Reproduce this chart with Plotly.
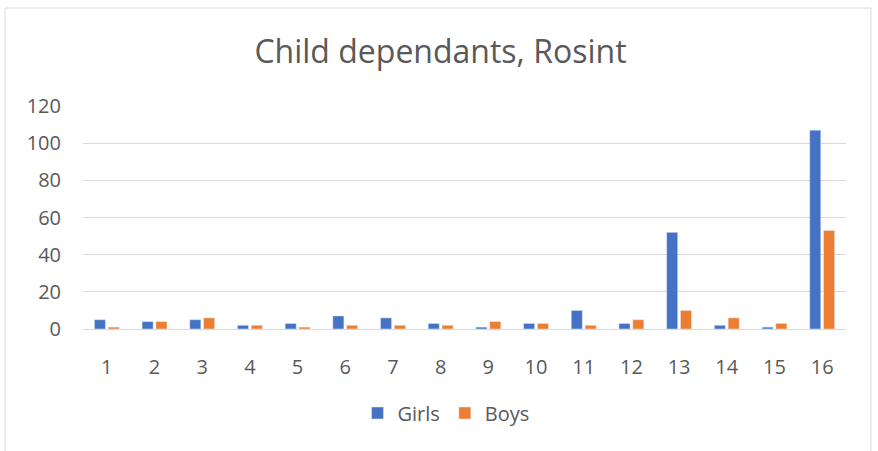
import plotly.graph_objects as go

categories = [str(i) for i in range(1, 17)]
girls = [5, 4, 5, 2, 3, 7, 6, 3, 1, 3, 10, 3, 52, 2, 1, 107]
boys = [1, 4, 6, 2, 1, 2, 2, 2, 4, 3, 2, 5, 10, 6, 3, 53]
y_ticks = [0, 20, 40, 60, 80, 100, 120]

fig = go.Figure()
fig.add_trace(go.Bar(x=categories, y=girls, name="Girls", marker_color="#4472C4"))
fig.add_trace(go.Bar(x=categories, y=boys, name="Boys", marker_color="#ED7D31"))

font_family = "Open Sans, Liberation Sans, sans-serif"
L, R, T, B = 83, 32, 106, 122
PH = 451 - T - B
PW = 878 - L - R

fig.update_layout(
    width=878, height=451,
    margin=dict(l=L, r=R, t=T, b=B),
    paper_bgcolor="white", plot_bgcolor="white",
    barmode="group", bargap=0.42, bargroupgap=0.2,
    title=dict(text="Child dependants, Rosint", x=440.5 / 878, xanchor="center",
               y=1 - 52 / 451, yanchor="middle",
               font=dict(family=font_family, size=32, color="#595959")),
    font=dict(family=font_family, size=20, color="#595959"),
    legend=dict(orientation="h", x=(446 - L) / PW, xanchor="center",
                y=-(413 - (451 - B)) / PH, yanchor="middle",
                font=dict(size=20, color="#595959"), itemwidth=30,
                traceorder="normal"),
    xaxis=dict(showgrid=False, showline=True, linecolor="#D9D9D9", linewidth=1,
               ticks="", ticklabelstandoff=20, tickfont=dict(size=20, color="#595959")),
    yaxis=dict(range=[0, 120], tickvals=y_ticks, showgrid=True, gridcolor="#D9D9D9",
               gridwidth=1, zeroline=False, showline=False, ticks="",
               ticklabelstandoff=21, tickfont=dict(size=20, color="#595959")),
    shapes=[dict(type="rect", xref="paper", yref="paper",
                 x0=(5 - L) / PW, x1=(871 - L) / PW,
                 y0=-(470 - (451 - B)) / PH, y1=((451 - B) - 8) / PH,
                 line=dict(color="#D9D9D9", width=1), fillcolor="rgba(0,0,0,0)",
                 layer="below")],
)

fig.write_html("out.html", config={"displayModeBar": False},
               post_script="document.body.style.margin='0';")
